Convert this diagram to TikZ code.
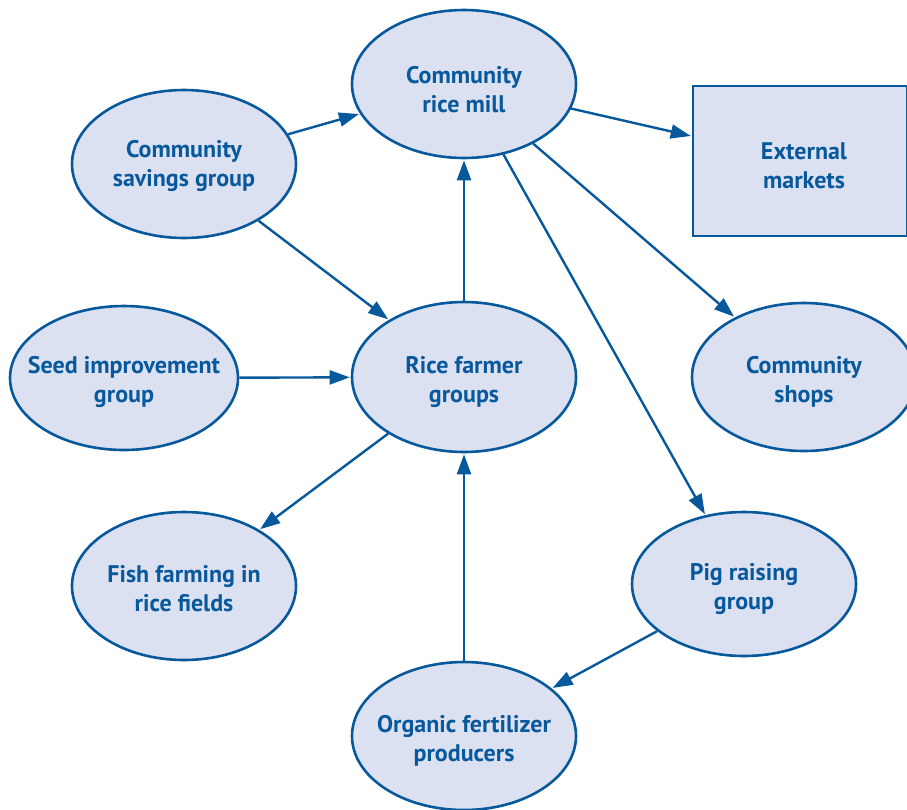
\documentclass[tikz,border=0pt]{standalone}
\usepackage{fontspec}
\setmainfont{PT Sans}
\usetikzlibrary{shapes.geometric,arrows.meta}
\definecolor{nodeblue}{RGB}{8,88,156}
\definecolor{nodefill}{RGB}{220,225,241}
\begin{document}
\begin{tikzpicture}[x=1pt,y=-1pt,
  bubble/.style={ellipse,draw=nodeblue,fill=nodefill,line width=2.6pt,
    minimum width=224pt,minimum height=148pt,inner sep=0pt},
  boxnode/.style={rectangle,draw=nodeblue,fill=nodefill,line width=2.6pt,
    minimum width=214pt,minimum height=150pt,inner sep=0pt},
  lbl/.style={text=nodeblue,font=\fontsize{24}{29}\selectfont\bfseries,align=center,inner sep=0pt},
  link/.style={draw=nodeblue,line width=2.4pt,-{Triangle[length=20pt,width=14pt]},shorten >=1pt}]
\useasboundingbox (0,0) rectangle (907,809);
\begin{scope}
\clip (0,0) rectangle (907,809);
\node[bubble] (mill) at (464,84) {};
\node[bubble] (savings) at (184,164) {};
\node[boxnode] (ext) at (800,161) {};
\node[bubble,minimum width=228pt,minimum height=144pt] (seed) at (124,378) {};
\node[bubble,minimum height=150pt] (farmer) at (464,377) {};
\node[bubble] (shops) at (804,377) {};
\node[bubble] (fish) at (184,586) {};
\node[bubble,minimum height=144pt] (pig) at (744,584) {};
\node[bubble] (organic) at (464,736) {};
\end{scope}
\node[lbl] (millT) at (464,90) {Community\\rice mill};
\node[lbl] (savingsT) at (184,166) {Community\\savings group};
\node[lbl] (extT) at (804,166) {External\\markets};
\node[lbl] (seedT) at (124,382) {Seed improvement\\group};
\node[lbl] (farmerT) at (464,382) {Rice farmer\\groups};
\node[lbl] (shopsT) at (804,382) {Community\\shops};
\node[lbl] (fishT) at (184,589) {Fish farming in\\rice fields};
\node[lbl] (pigT) at (744,589) {Pig raising\\group};
\node[lbl] (organicT) at (464,741) {Organic fertilizer\\producers};
\draw[link] (savings) -- (mill);
\draw[link] (mill) -- (ext);
\draw[link] (savings) -- (farmer);
\draw[link] (farmer) -- (mill);
\draw[link] (mill) -- (shops);
\draw[link] (mill) -- (pig);
\draw[link] (seed) -- (farmer);
\draw[link] (farmer) -- (fish);
\draw[link] (organic) -- (farmer);
\draw[link] (pig) -- (organic);
\end{tikzpicture}
\end{document}
